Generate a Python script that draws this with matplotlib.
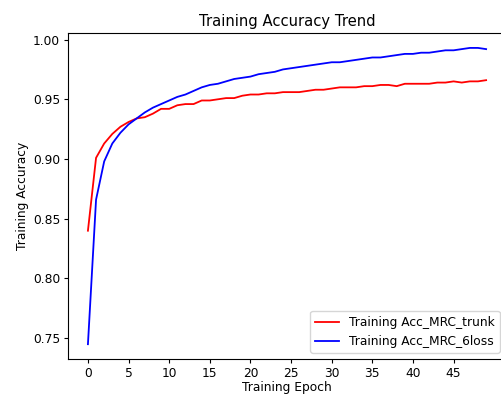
import matplotlib
matplotlib.use('Agg')
import matplotlib.pyplot as plt

epochs = list(range(50))

acc_trunk = [0.840, 0.901, 0.913, 0.921, 0.927, 0.931, 0.934, 0.935, 0.938, 0.942,
             0.942, 0.945, 0.946, 0.946, 0.949, 0.949, 0.950, 0.951, 0.951, 0.953,
             0.954, 0.954, 0.955, 0.955, 0.956, 0.956, 0.956, 0.957, 0.958, 0.958,
             0.959, 0.960, 0.960, 0.960, 0.961, 0.961, 0.962, 0.962, 0.961, 0.963,
             0.963, 0.963, 0.963, 0.964, 0.964, 0.965, 0.964, 0.965, 0.965, 0.966]

acc_6loss = [0.745, 0.866, 0.898, 0.913, 0.922, 0.929, 0.934, 0.939, 0.943, 0.946,
             0.949, 0.952, 0.954, 0.957, 0.960, 0.962, 0.963, 0.965, 0.967, 0.968,
             0.969, 0.971, 0.972, 0.973, 0.975, 0.976, 0.977, 0.978, 0.979, 0.980,
             0.981, 0.981, 0.982, 0.983, 0.984, 0.985, 0.985, 0.986, 0.987, 0.988,
             0.988, 0.989, 0.989, 0.990, 0.991, 0.991, 0.992, 0.993, 0.993, 0.992]

fig = plt.figure(figsize=(5.02, 3.96), dpi=100)
ax = fig.add_axes([0.1355, 0.0934, 0.8725, 0.823])

ax.plot(epochs, acc_trunk, color='red', linewidth=1.3, label='Training Acc_MRC_trunk')
ax.plot(epochs, acc_6loss, color='blue', linewidth=1.3, label='Training Acc_MRC_6loss')

ax.set_title('Training Accuracy Trend', fontsize=10.6, pad=5)
ax.set_xlabel('Training Epoch', fontsize=8.8, labelpad=1)
ax.set_ylabel('Training Accuracy', fontsize=8.8, labelpad=3)
ax.set_xticks(range(0, 50, 5))
ax.tick_params(labelsize=8.8, length=3.1, pad=2.5)
ax.legend(loc='lower right', fontsize=8.8)

fig.savefig('out.png', dpi=100)
plt.close(fig)
